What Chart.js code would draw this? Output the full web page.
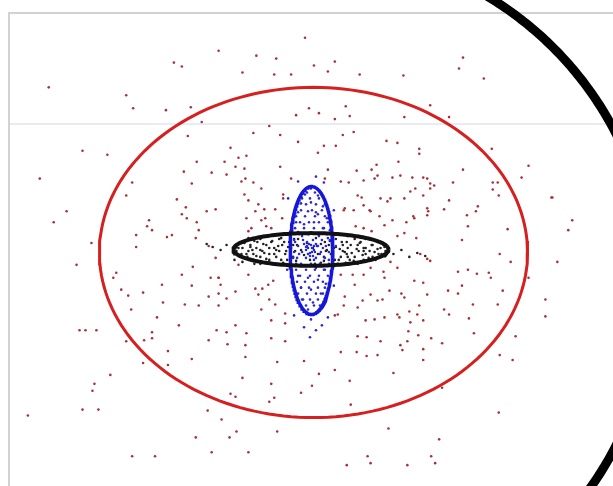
<!DOCTYPE html>
<html>
<head>
<meta charset="utf-8">
<script src="https://cdn.jsdelivr.net/npm/chart.js@4.4.1/dist/chart.umd.min.js"></script>
<style>
  html, body { margin: 0; padding: 0; background: #fff; }
  #wrap { width: 613px; height: 486px; position: relative; }
</style>
</head>
<body>
<div id="wrap"><canvas id="scatter-chart"></canvas></div>
<script>
(function(){

    // plot units (x to the right, y downward)
    const xRange = [9, 613];
    const yRange = [13, 486];
    const ruleY = 125;

    // ellipses: [centerX, centerY, radiusX, radiusY]
    const redEllipse = [315.5, 254.5, 215.5, 166.5];
    const blackEllipse = [313, 251.5, 78, 16.5];
    const blueEllipse = [313.5, 252.5, 21.5, 64.5];
    const bigEllipse = [313, 292, 345, 345];
    // only the right hand part of the big one is in view
    const bigArcAngles = [-1.1, 0.7];

    const redPoints = [
        [49,88],[220,51],[175,63],[183,67],[258,56],[278,59],[244,73],[276,75],[293,75],[307,38],
        [127,96],[134,109],[167,111],[192,108],[203,123],[298,116],[271,127],[282,136],[255,134],[189,137],
        [300,143],[83,152],[108,156],[40,180],[198,163],[232,149],[226,163],[240,159],[248,157],[237,168],
        [246,170],[185,173],[213,174],[228,176],[247,180],[255,184],[282,168],[133,184],[127,197],[193,185],
        [246,196],[178,201],[187,209],[183,216],[208,213],[217,211],[188,220],[67,213],[54,224],[150,222],
        [148,228],[153,232],[198,224],[200,232],[248,220],[260,206],[266,211],[277,211],[284,220],[263,222],
        [268,228],[253,230],[250,233],[137,237],[168,239],[173,237],[197,240],[293,180],[285,196],
        [316,66],[337,62],[330,72],[362,75],[406,76],[466,58],[462,69],[487,79],[311,109],[321,114],
        [337,120],[348,107],[352,117],[407,118],[433,106],[452,118],[345,136],[356,133],[326,147],[338,147],
        [320,154],[389,142],[400,144],[422,150],[422,155],[401,163],[330,171],[359,172],[379,166],[374,171],
        [351,184],[366,182],[380,177],[395,179],[415,179],[426,179],[433,185],[437,187],[456,184],[466,171],
        [495,150],[532,167],[525,179],[496,184],[501,184],[496,191],[502,197],[555,199],[576,222],[572,232],
        [511,231],[418,190],[426,197],[407,200],[383,200],[390,203],[364,199],[366,207],[372,212],[452,202],
        [447,211],[481,208],[479,213],[470,217],[431,213],[430,217],[416,218],[395,222],[409,224],[382,218],
        [356,212],[346,212],[358,228],[366,230],[374,233],[419,240],[407,235],[471,228],[465,242],
        [92,245],[137,249],[77,267],[183,277],[194,269],[117,275],[114,280],[122,292],[129,298],[144,295],
        [163,287],[164,305],[193,288],[212,280],[220,280],[222,287],[237,294],[210,299],[220,296],[228,301],
        [220,308],[200,308],[186,307],[257,291],[264,291],[275,283],[271,302],[263,312],[273,323],[287,316],
        [287,326],[132,312],[158,320],[180,328],[153,335],[153,341],[97,333],[127,344],[145,343],[210,343],
        [218,333],[228,335],[237,328],[248,336],[229,347],[247,348],[273,341],[287,344],[169,354],[169,368],
        [193,362],[247,360],[279,365],[306,364],[144,366],[111,378],[95,387],[93,394],[244,381],[273,387],
        [303,396],[232,397],[237,400],[271,405],[276,401],[209,414],[223,423],[99,413],[28,419],[231,441],
        [279,435],[250,456],[156,460],[133,460],[213,456],[197,441],[238,435],[83,413],[80,333],[86,333],
        [503,256],[514,264],[561,264],[532,280],[549,302],[549,319],[519,339],[503,358],[516,363],[502,416],
        [423,256],[430,261],[393,264],[386,274],[366,277],[355,277],[461,274],[471,272],[480,276],[492,275],
        [494,280],[426,285],[451,293],[465,288],[461,296],[476,307],[501,307],[506,293],[404,296],[392,293],
        [385,302],[373,297],[365,303],[347,299],[346,308],[337,318],[422,308],[412,314],[447,312],[452,317],
        [472,321],[426,323],[413,325],[402,320],[387,320],[377,322],[368,323],[477,336],[445,346],[434,341],
        [421,338],[411,334],[410,344],[403,348],[405,353],[383,344],[369,340],[360,339],[426,352],[426,363],
        [380,358],[369,359],[359,355],[343,355],[337,373],[321,377],[314,389],[396,376],[352,384],[353,408],
        [445,391],[391,432],[442,443],[434,460],[438,467],[410,469],[349,469],[370,460],[373,467],[556,199],
        [210,248],[217,260],[220,280],[240,267],[250,277],[270,287],[260,297],[277,307],[257,213],[250,202],
        [267,220],[273,230],[285,200],[263,190],[243,183],[347,210],[360,197],[373,213],[387,227],[400,238],
        [417,220],[430,210],[433,190],[413,193],[393,200],[343,277],[357,287],[373,270],[387,280],[400,270],
        [417,283],[430,297],[407,300],[380,303],[360,310],[340,317],[400,317],[420,317],[433,263],[343,183],
        [327,180],[377,180],[403,177],[430,180]
    ];

    const blackPoints = [
        [240,250],[246,245],[248,256],[252,249],[256,243],[258,258],[262,252],[265,246],[268,261],[271,250],
        [274,243],[276,256],[280,248],[283,262],[286,244],[288,253],[292,258],[295,247],[298,263],[300,241],
        [303,252],[306,257],[309,245],[312,262],[315,250],[318,240],[320,256],[323,246],[326,263],[329,252],
        [332,243],[335,258],[338,249],[341,262],[344,244],[347,254],[350,259],[353,247],[356,263],[359,251],
        [362,245],[365,257],[368,250],[371,260],[374,247],[377,254],[380,251],[384,256],[387,249],[228,247],
        [222,252],[214,249],[208,246],[396,256],[404,252],[412,259],[420,255],[428,258],[236,262],[244,264],
        [262,266],[300,268],[330,268],[360,266],[378,262],[250,240],[270,238],[350,238],[372,241],[256,266],
        [340,266],[283,240],[317,266],[254,252],[266,255],[278,252],[290,249],[342,251],[354,255],[366,253],
        [262,241],[281,241],[296,241],[338,241],[357,241],[368,241],
        [245,244],[259,244],[273,244],[291,244],[327,244],[349,244],[363,244],[380,244],
        [238,247],[252,247],[268,247],[284,247],[299,247],[331,247],[345,247],[360,247],[375,247],[386,247],
        [244,250],[258,250],[276,250],[293,250],[336,250],[350,250],[366,250],[383,250],
        [238,253],[250,253],[264,253],[281,253],[297,253],[328,253],[345,253],[361,253],[372,253],[388,253],
        [243,256],[255,256],[271,256],[287,256],[333,256],[349,256],[368,256],[381,256],
        [249,259],[262,259],[278,259],[295,259],[326,259],[343,259],[357,259],[375,259],
        [255,262],[271,262],[289,262],[337,262],[352,262],[366,262],
        [268,265],[285,265],[323,265],[348,265]
    ];

    const bluePoints = [
        [313,190],[307,196],[320,197],[303,205],[313,204],[325,208],[300,214],[310,213],[320,216],[329,220],
        [298,224],[306,226],[316,224],[326,230],[300,234],[311,236],[321,238],[330,240],[297,244],[306,246],
        [316,248],[325,250],[301,256],[312,258],[322,256],[331,262],[298,266],[307,268],[318,270],[327,272],
        [300,278],[310,280],[320,282],[328,286],[303,290],[313,292],[323,296],[305,302],[315,305],[322,308],
        [310,312],[318,178],[300,183],[326,184],[290,200],[336,212],[288,236],[338,248],[289,272],[336,288],
        [313,322],[306,330],[318,333],[324,328],[312,340],[296,318],[330,320],[295,260],[332,232],[308,252],
        [316,262],[304,238],[318,214],[311,246],[314,250],[317,254],[310,256],[320,248],[309,244],[315,258],
        [309,194],[317,194],[304,200],[312,200],[321,200],[299,206],[308,206],[318,206],[327,206],
        [303,212],[314,212],[324,212],[298,218],[307,218],[317,218],[327,218],[302,224],[311,224],[321,224],
        [330,224],[297,230],[306,230],[316,230],[325,230],[301,236],[310,236],[320,236],[329,236],
        [296,242],[305,242],[315,242],[324,242],[332,242],[300,248],[309,248],[319,248],[328,248],
        [296,254],[304,254],[314,254],[323,254],[331,254],[299,260],[308,260],[318,260],[327,260],
        [303,266],[313,266],[322,266],[331,266],[298,272],[308,272],[317,272],[326,272],
        [302,278],[312,278],[321,278],[330,278],[299,284],[307,284],[316,284],[325,284],
        [303,290],[311,290],[320,290],[327,290],[300,296],[309,296],[318,296],[325,296],
        [304,302],[312,302],[320,302],[308,308],[316,308],
        [310,250],[313,247],[316,252],[312,255],[308,249],[318,246]
    ];

    function ellipsePath(e, from, to){
        const pts = [];
        for(let i = 0; i <= 180; i++){
            const t = from + (to - from) * i / 180;
            pts.push({x: e[0] + e[2] * Math.cos(t), y: e[1] + e[3] * Math.sin(t)});
        }
        return pts;
    }

    const toXY = list => list.map(p => ({x: p[0], y: p[1]}));

    const curve = (path, color, width, order, from, to) => ({
        type: 'line',
        data: ellipsePath(path, from === undefined ? 0 : from, to === undefined ? Math.PI * 2 : to),
        borderColor: color,
        borderWidth: width,
        pointRadius: 0,
        fill: false,
        tension: 0,
        clip: false,
        order: order
    });

    const dots = (list, color, order) => ({
        type: 'scatter',
        data: toXY(list),
        backgroundColor: color,
        borderWidth: 0,
        pointRadius: 1.3,
        order: order
    });

    // frame and the faint rule
    const framePlugin = {
        id: 'frame',
        beforeDatasetsDraw(chart){
            const {ctx, chartArea: a, scales} = chart;
            ctx.save();
            ctx.strokeStyle = '#e0e5ef';
            ctx.lineWidth = 1.5;
            const ry = scales.y.getPixelForValue(ruleY);
            ctx.beginPath();
            ctx.moveTo(a.left, ry);
            ctx.lineTo(a.right, ry);
            ctx.stroke();
            ctx.strokeStyle = '#d2d2d2';
            ctx.lineWidth = 2;
            ctx.beginPath();
            ctx.moveTo(a.left, a.bottom + 5);
            ctx.lineTo(a.left, a.top);
            ctx.lineTo(a.right + 5, a.top);
            ctx.stroke();
            ctx.restore();
        }
    };

    new Chart(document.getElementById('scatter-chart'), {
        type: 'scatter',
        data: {
            datasets: [
                curve(bigEllipse, '#000000', 9, 0, bigArcAngles[0], bigArcAngles[1]),
                curve(blackEllipse, '#111111', 4, 1),
                curve(blueEllipse, '#1616d8', 3.5, 2),
                curve(redEllipse, '#d61f1f', 3, 3),
                dots(bluePoints, '#2a2ad0', 4),
                dots(blackPoints, '#222222', 5),
                dots(redPoints, '#a8323c', 6)
            ]
        },
        plugins: [framePlugin],
        options: {
            responsive: true,
            maintainAspectRatio: false,
            animation: false,
            layout: { padding: { left: 9, top: 13, right: 0, bottom: 0 } },
            scales: {
                x: { type: 'linear', display: false, min: xRange[0], max: xRange[1] },
                y: { type: 'linear', display: false, reverse: true, min: yRange[0], max: yRange[1] }
            },
            plugins: {
                legend: { display: false },
                tooltip: { enabled: false }
            }
        }
    });
})();
</script>
</body>
</html>
